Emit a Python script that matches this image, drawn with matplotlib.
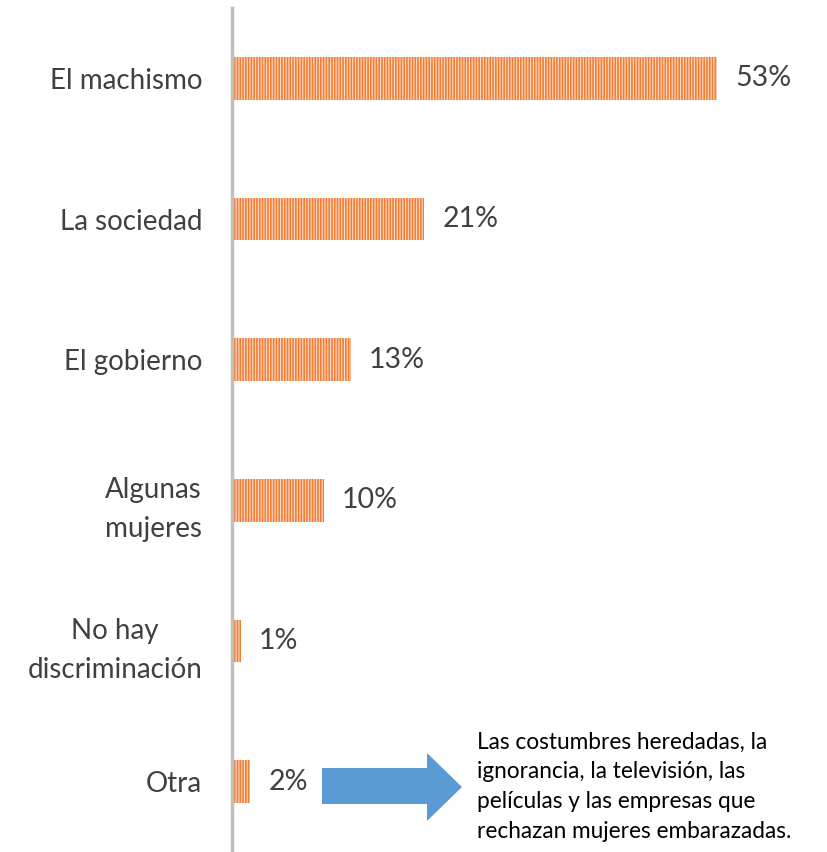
import matplotlib
matplotlib.use("Agg")
import matplotlib.pyplot as plt
from matplotlib.patches import Polygon

plt.rcParams['font.family'] = ['Lato', 'DejaVu Sans']
plt.rcParams['hatch.linewidth'] = 1.2

categories = ["El machismo", "La sociedad", "El gobierno", "Algunas\nmujeres",
              "No hay\ndiscriminación", "Otra"]
values = [53, 21, 13, 10, 1, 2]
value_labels = ["53%", "21%", "13%", "10%", "1%", "2%"]
note = ("Las costumbres heredadas, la\nignorancia, la televisión, las\n"
        "películas y las empresas que\nrechazan mujeres embarazadas.")

W, H = 827, 852
fig = plt.figure(figsize=(W / 100, H / 100), dpi=100)
ax = fig.add_axes([232 / W, 0, (W - 232) / W, 844 / H])

ypos = list(range(len(categories)))
ax.barh(ypos, values, height=0.305, color="#FCDCC6", edgecolor="#F07F35",
        linewidth=0, hatch="||||||")

ax.set_xlim(0, 53 * (W - 232) / 485)
ax.set_ylim(5.5, -0.5)

for y, v, lab in zip(ypos, values, value_labels):
    ax.annotate(lab, (v, y), xytext=(13, 0), textcoords="offset points",
                va="center", ha="left", fontsize=20.5, color="#404040")

ax.set_yticks(ypos)
ax.set_yticklabels(categories, fontsize=20, color="#404040",
                   multialignment="center", linespacing=1.65)
ax.tick_params(axis="y", length=0, pad=21.5)
ax.set_xticks([])
for s in ["top", "right", "bottom"]:
    ax.spines[s].set_visible(False)
ax.spines["left"].set_color("#BFBFBF")
ax.spines["left"].set_linewidth(2.5)

# block arrow pointing to the note
pts = [(322, 768), (427, 768), (427, 753), (462, 787), (427, 821), (427, 804), (322, 804)]
pts = [(x / W, 1 - y / H) for x, y in pts]
fig.patches.append(Polygon(pts, closed=True, transform=fig.transFigure,
                           facecolor="#5B9BD5", edgecolor="none"))

fig.text(477 / W, 1 - 732 / H, note, ha="left", va="top", fontsize=16.3,
         color="black", linespacing=1.5)

fig.savefig("out.png", dpi=100, facecolor="white")
